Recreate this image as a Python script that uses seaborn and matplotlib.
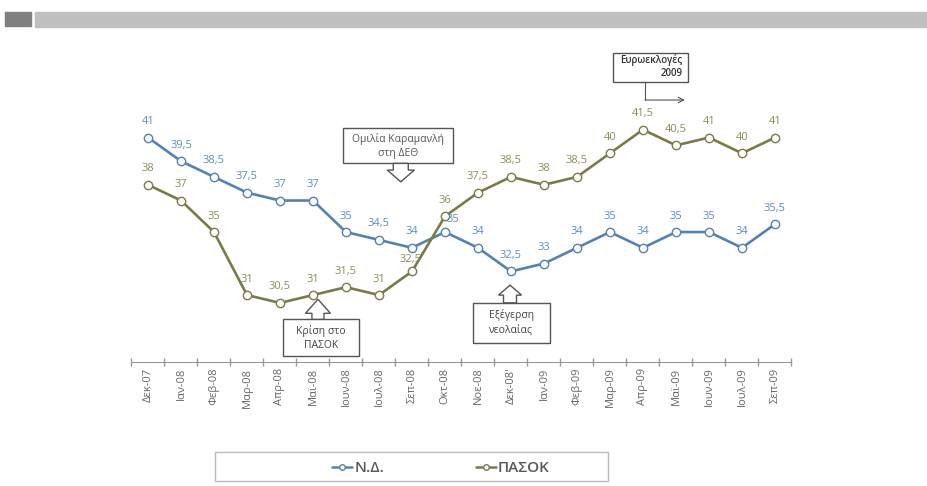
import numpy as np
import pandas as pd
import matplotlib
matplotlib.use('Agg')
import matplotlib.pyplot as plt
import seaborn as sns
from matplotlib.patches import Rectangle, Polygon
from matplotlib.lines import Line2D

# data
months = ['Δεκ-07', 'Ιαν-08', 'Φεβ-08', 'Μαρ-08', 'Απρ-08', 'Μαϊ-08', 'Ιουν-08',
          'Ιουλ-08', 'Σεπ-08', 'Οκτ-08', 'Νοε-08', "Δεκ-08'", 'Ιαν-09', 'Φεβ-09',
          'Μαρ-09', 'Απρ-09', 'Μαϊ-09', 'Ιουν-09', 'Ιουλ-09', 'Σεπ-09']
nd = [41, 39.5, 38.5, 37.5, 37, 37, 35, 34.5, 34, 35, 34, 32.5, 33, 34, 35, 34, 35, 35, 34, 35.5]
pasok = [38, 37, 35, 31, 30.5, 31, 31.5, 31, 32.5, 36, 37.5, 38.5, 38, 38.5, 40, 41.5, 40.5, 41, 40, 41]

df = pd.DataFrame({'month': months, 'ND': nd, 'PASOK': pasok})

nd_color = '#5282b8'
pasok_color = '#7b7b45'
nd_lab = '#5b8cc4'
pasok_lab = '#8c8c58'
box_ec = '#555555'

sns.set_style('white')
plt.rcParams['font.family'] = ['Open Sans', 'DejaVu Sans']

fig = plt.figure(figsize=(9.28, 4.86), dpi=100)
ax = fig.add_axes([131.5 / 928, (486 - 362) / 486, 660 / 928, 319 / 486])

# header bars
fig.add_artist(Rectangle((5 / 928, (486 - 26) / 486), 26 / 928, 14 / 486,
                         transform=fig.transFigure, color='#808080'))
fig.add_artist(Rectangle((35 / 928, (486 - 27) / 486), 893 / 928, 15 / 486,
                         transform=fig.transFigure, color='#bfbfbf'))

for col, c in [('ND', nd_color), ('PASOK', pasok_color)]:
    sns.lineplot(data=df, x='month', y=col, ax=ax, color=c, lw=1.9, sort=False,
                 marker='o', ms=6, mfc='white', mec=c, mew=1.0)

ax.set_xlim(-0.5, 19.5)
ax.set_ylim(26.75, 47)
ax.set_xlabel('')
ax.set_ylabel('')
ax.set_yticks([])
for s in ['left', 'right', 'top']:
    ax.spines[s].set_visible(False)
ax.spines['bottom'].set_color('#999999')
ax.set_xticks(range(len(months)))
ax.set_xticklabels(months, rotation=90, fontsize=8, color='#666666')
ax.set_xticks(np.arange(-0.5, len(months), 1), minor=True)
ax.tick_params(axis='x', which='both', bottom=True)
ax.tick_params(axis='x', which='major', length=0, pad=4)
ax.tick_params(axis='x', which='minor', length=6, width=1, direction='inout', color='#999999')

# value labels
nd_off = {9: (6, 9)}
pasok_off = {8: (-1, 8.5)}
for i, v in enumerate(nd):
    ax.annotate(f'{v:g}'.replace('.', ','), (i, v), xytext=nd_off.get(i, (0, 11.5)),
                textcoords='offset points', ha='center', va='center', fontsize=8, color=nd_lab)
for i, v in enumerate(pasok):
    ax.annotate(f'{v:g}'.replace('.', ','), (i, v), xytext=pasok_off.get(i, (0, 11.5)),
                textcoords='offset points', ha='center', va='center', fontsize=8, color=pasok_lab)


def draw_box(cx, cy, w, h):
    px, py = ax.transData.transform((cx, cy))
    pts = np.array([[px - w / 2, py - h / 2], [px + w / 2, py - h / 2],
                    [px + w / 2, py + h / 2], [px - w / 2, py + h / 2]])
    pts = ax.transData.inverted().transform(pts)
    ax.add_patch(Polygon(pts, closed=True, fc='white', ec=box_ec, lw=1, clip_on=False, zorder=4))


def block_arrow(tx, ty, up, head_w, head_l, tail_w, tail_l):
    px, py = ax.transData.transform((tx, ty))
    s = 1 if up else -1
    pts = np.array([
        [px, py],
        [px + head_w / 2, py - s * head_l],
        [px + tail_w / 2, py - s * head_l],
        [px + tail_w / 2, py - s * (head_l + tail_l)],
        [px - tail_w / 2, py - s * (head_l + tail_l)],
        [px - tail_w / 2, py - s * head_l],
        [px - head_w / 2, py - s * head_l],
    ])
    pts = ax.transData.inverted().transform(pts)
    ax.add_patch(Polygon(pts, closed=True, fc='white', ec=box_ec, lw=1, clip_on=False, zorder=4))


# Ομιλία Καραμανλή
draw_box(7.58, 40.47, 110, 35)
ax.text(7.58, 40.47, 'Ομιλία Καραμανλή\nστη ΔΕΘ', ha='center', va='center', fontsize=7.5,
        color='#555555', zorder=5, linespacing=1.3)
block_arrow(7.66, 38.19, False, 27, 11.7, 15, 6.7)

# Κρίση στο ΠΑΣΟΚ
draw_box(5.24, 28.29, 76, 37)
ax.text(5.24, 28.29, 'Κρίση στο\nΠΑΣΟΚ', ha='center', va='center', fontsize=7.5,
        color='#444444', zorder=5, linespacing=1.4)
block_arrow(5.15, 30.73, True, 25, 14, 12, 6)

# Εξέγερση νεολαίας
draw_box(11.01, 29.24, 77, 40)
ax.text(11.01, 29.24, 'Εξέγερση\nνεολαίας', ha='center', va='center', fontsize=7.5,
        color='#444444', zorder=5, linespacing=1.4)
block_arrow(10.97, 31.63, True, 23, 10, 13, 7.7)

# Ευρωεκλογές 2009
draw_box(15.22, 45.44, 75, 28.4)
ax.text(16.2, 45.5, 'Ευρωεκλογές\n2009', ha='right', va='center', fontsize=7,
        color='#333333', weight='semibold', zorder=5, multialignment='right', linespacing=1.25)
ax.plot([15.06, 15.06], [44.54, 43.38], color=box_ec, lw=0.8, clip_on=False)
ax.annotate('', xy=(16.27, 43.38), xytext=(15.06, 43.38),
            arrowprops=dict(arrowstyle='->', color=box_ec, lw=0.8, shrinkA=0, shrinkB=0))

# legend
fig.add_artist(Rectangle((215 / 928, (486 - 481) / 486), 393 / 928, 29.3 / 486,
                         transform=fig.transFigure, fill=False, ec='#bbbbbb', lw=1))
handles = [Line2D([], [], color=nd_color, lw=1.8, marker='o', ms=4, mfc='white', mec=nd_color),
           Line2D([], [], color=pasok_color, lw=1.8, marker='o', ms=4, mfc='white', mec=pasok_color)]
fig.legend(handles, ['Ν.Δ.', 'ΠΑΣΟΚ'], loc='center', bbox_to_anchor=(441 / 928, 18 / 486),
           ncol=2, frameon=False, handlelength=1.3, handletextpad=0.15, columnspacing=6,
           prop=dict(size=11, weight='semibold'), labelcolor='#595959')

fig.savefig('out.png', dpi=100)
